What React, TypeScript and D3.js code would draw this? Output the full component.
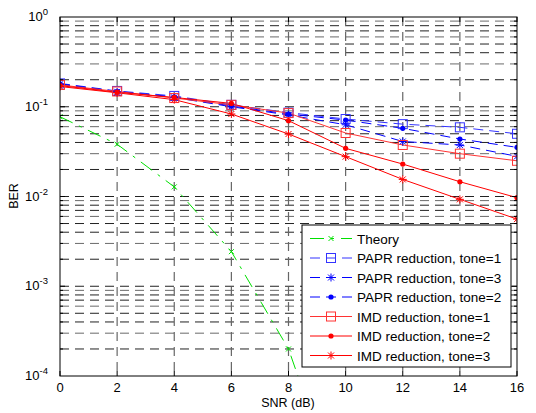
import React from "react";
import * as d3 from "d3";

const snr = [0, 2, 4, 6, 8, 10, 12, 14, 16];
const snrTheory = [0, 2, 4, 6, 8, 10];
const theory = [0.0774, 0.0382, 0.0128, 0.00243, 0.0002, 0.000003];
const paprTone1 = [0.182, 0.15, 0.132, 0.105, 0.086, 0.073, 0.064, 0.059, 0.05];
const paprTone3 = [0.178, 0.147, 0.127, 0.1, 0.081, 0.063, 0.041, 0.0375, 0.028];
const paprTone2 = [0.18, 0.148, 0.129, 0.102, 0.083, 0.071, 0.0575, 0.0437, 0.0353];
const imdTone1 = [0.175, 0.148, 0.125, 0.105, 0.085, 0.051, 0.0375, 0.03, 0.025];
const imdTone2 = [0.172, 0.145, 0.127, 0.109, 0.07, 0.0344, 0.023, 0.0146, 0.0097];
const imdTone3 = [0.168, 0.143, 0.12, 0.083, 0.0497, 0.0278, 0.0155, 0.0093, 0.0056];
const xTicks = [0, 2, 4, 6, 8, 10, 12, 14, 16];
const yExps = [0, -1, -2, -3, -4];
const legendLabels = [
  "Theory",
  "PAPR reduction, tone=1",
  "PAPR reduction, tone=3",
  "PAPR reduction, tone=2",
  "IMD reduction, tone=1",
  "IMD reduction, tone=2",
  "IMD reduction, tone=3",
];

type Series = { xs: number[]; ys: number[]; color: string; dash: string; marker: string };

const W = 536, H = 413;
const L = 60, R = 517, T = 17, B = 376;

export default function App() {
  const x = d3.scaleLinear().domain([0, 16]).range([L, R]);
  const y = d3.scaleLog().domain([1e-4, 1]).range([B, T]);

  const series: Series[] = [
    { xs: snrTheory, ys: theory, color: "#00e000", dash: "14,7,3,7", marker: "x" },
    { xs: snr, ys: paprTone1, color: "#3333ff", dash: "10,6", marker: "square" },
    { xs: snr, ys: paprTone3, color: "#0000ff", dash: "10,6", marker: "star" },
    { xs: snr, ys: paprTone2, color: "#0000ff", dash: "10,6", marker: "dot" },
    { xs: snr, ys: imdTone1, color: "#ff3333", dash: "", marker: "square" },
    { xs: snr, ys: imdTone2, color: "#ff0000", dash: "", marker: "dot" },
    { xs: snr, ys: imdTone3, color: "#ff0000", dash: "", marker: "star" },
  ];

  const line = d3.line<[number, number]>().x((d) => x(d[0])).y((d) => y(d[1]));

  const marker = (m: string, cx: number, cy: number, color: string, key: string | number) => {
    if (m === "square")
      return <rect key={key} x={cx - 4.5} y={cy - 4.5} width={9} height={9} fill="none" stroke={color} strokeWidth={1} />;
    if (m === "dot") return <circle key={key} cx={cx} cy={cy} r={2.6} fill={color} />;
    if (m === "x")
      return (
        <path key={key} d={`M${cx - 2.5},${cy - 2.5}L${cx + 2.5},${cy + 2.5}M${cx - 2.5},${cy + 2.5}L${cx + 2.5},${cy - 2.5}`} stroke={color} strokeWidth={1} />
      );
    return (
      <path
        key={key}
        d={`M${cx - 4},${cy}L${cx + 4},${cy}M${cx},${cy - 4}L${cx},${cy + 4}M${cx - 3},${cy - 3}L${cx + 3},${cy + 3}M${cx - 3},${cy + 3}L${cx + 3},${cy - 3}`}
        stroke={color}
        strokeWidth={1}
      />
    );
  };

  const hGrid: { v: number; major: boolean }[] = [];
  for (let e = -4; e < 0; e++) {
    for (let k = 1; k <= 9; k++) {
      const v = k * Math.pow(10, e);
      if (k === 1 && e === -4) continue;
      hGrid.push({ v, major: k === 1 });
    }
  }

  const font = "Liberation Sans, Arial, sans-serif";
  const lx0 = 302, ly0 = 225, lw = 209, lh = 142;

  return (
    <svg width={W} height={H} style={{ position: "absolute", left: 0, top: 0, background: "#fff" }} fontFamily={font}>
      <rect x={0} y={0} width={W} height={H} fill="#fff" />
      <defs>
        <clipPath id="plotclip">
          <rect x={L} y={T} width={R - L} height={B - T} />
        </clipPath>
      </defs>
      {hGrid.map((g, i) => (
        <line key={"h" + i} x1={L} x2={R} y1={y(g.v)} y2={y(g.v)} stroke={i % 3 === 1 ? "#6a6a6a" : "#222"} strokeWidth={1} strokeDasharray="9,6" />
      ))}
      {xTicks.slice(1, -1).map((t) => (
        <line key={"v" + t} x1={x(t)} x2={x(t)} y1={T} y2={B} stroke="#666" strokeWidth={1.2} strokeDasharray="9,6" />
      ))}
      <g clipPath="url(#plotclip)">
        {series.map((s, i) => (
          <path
            key={"s" + i}
            d={line(s.xs.map((v, j) => [v, s.ys[j]] as [number, number])) || ""}
            fill="none"
            stroke={s.color}
            strokeWidth={1}
            strokeDasharray={s.dash || undefined}
          />
        ))}
        {series.map((s, i) =>
          s.xs.map((v, j) => marker(s.marker, x(v), y(s.ys[j]), s.color, `m${i}-${j}`))
        )}
      </g>
      <rect x={L} y={T} width={R - L} height={B - T} fill="none" stroke="#000" strokeWidth={1} />
      {xTicks.map((t) => (
        <g key={"xt" + t}>
          <line x1={x(t)} x2={x(t)} y1={B} y2={B - 5} stroke="#000" />
          <line x1={x(t)} x2={x(t)} y1={T} y2={T + 5} stroke="#000" />
          <text x={x(t)} y={392} textAnchor="middle" fontSize={13}>
            {t}
          </text>
        </g>
      ))}
      {hGrid.map((g, i) => (
        <g key={"yt" + i}>
          <line x1={L} x2={L + (g.major ? 5 : 3)} y1={y(g.v)} y2={y(g.v)} stroke="#000" />
          <line x1={R} x2={R - (g.major ? 5 : 3)} y1={y(g.v)} y2={y(g.v)} stroke="#000" />
        </g>
      ))}
      {yExps.map((e) => (
        <text key={"ye" + e} x={48} y={y(Math.pow(10, e)) + 4} textAnchor="end" fontSize={13}>
          10
          <tspan dy={-6} fontSize={9.5}>
            {e}
          </tspan>
        </text>
      ))}
      <text x={288} y={407} textAnchor="middle" fontSize={12.5}>
        SNR (dB)
      </text>
      <text transform={`translate(18,196) rotate(-90)`} textAnchor="middle" fontSize={12.5}>
        BER
      </text>
      <rect x={lx0} y={ly0} width={lw} height={lh} fill="#fff" stroke="#000" strokeWidth={1} />
      {series.map((s, i) => {
        const cy = 238.5 + i * 19.5;
        return (
          <g key={"lg" + i}>
            <line x1={310} x2={352} y1={cy} y2={cy} stroke={s.color} strokeWidth={1} strokeDasharray={s.dash || undefined} />
            {marker(s.marker, 331, cy, s.color, "lm" + i)}
            <text x={357} y={cy + 5} fontSize={13.5}>
              {legendLabels[i]}
            </text>
          </g>
        );
      })}
    </svg>
  );
}
